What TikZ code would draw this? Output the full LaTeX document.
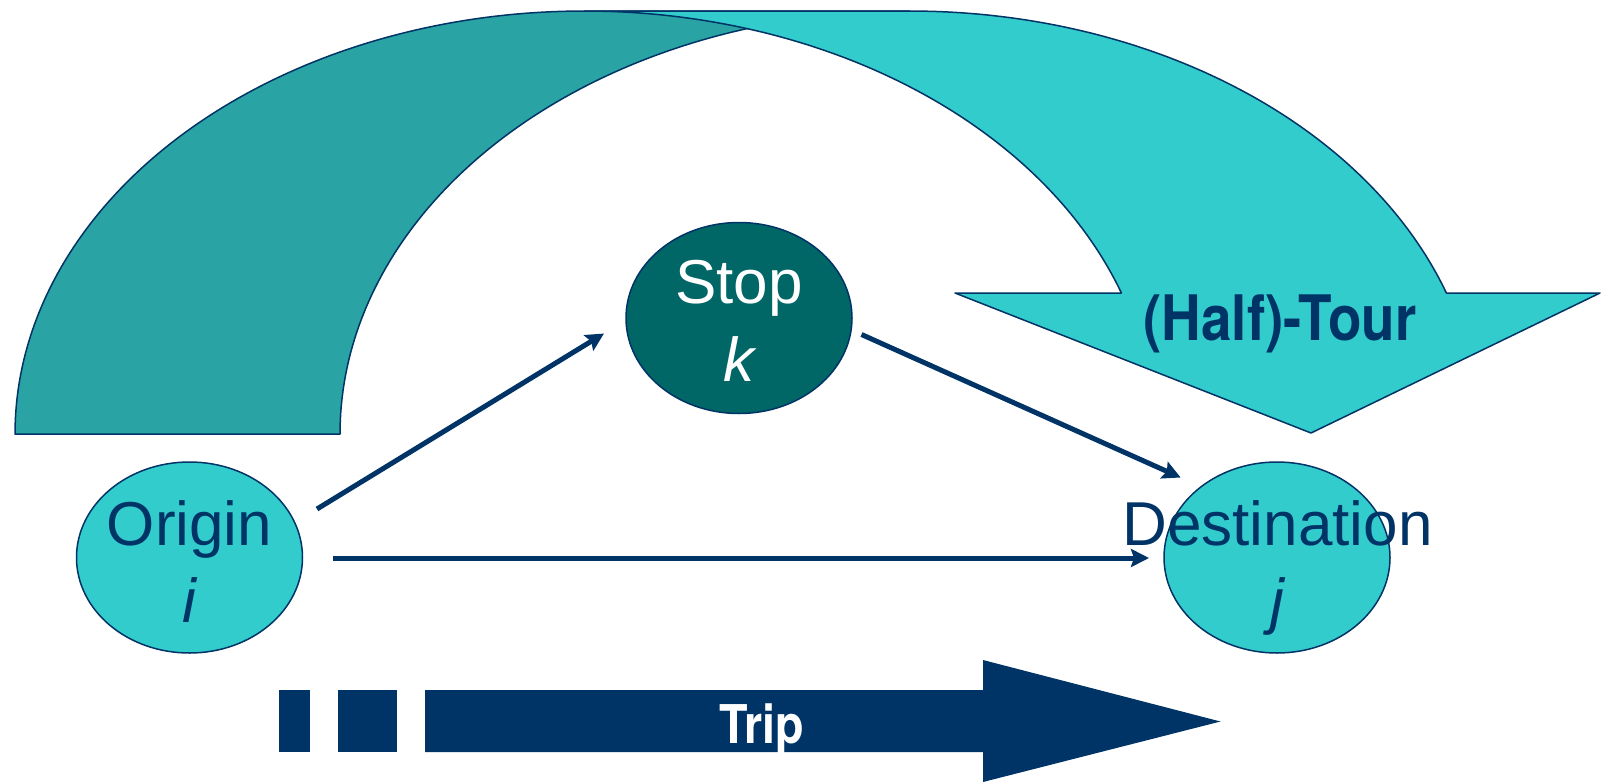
\documentclass[tikz,border=0pt]{standalone}
\usepackage{fontspec}
\setmainfont{Liberation Sans}
\newfontfamily\bannerfont[FakeStretch=0.875]{TeX Gyre Heros}
\usetikzlibrary{shapes.geometric,arrows.meta}
\definecolor{turq}{HTML}{33CCCC}
\definecolor{turqdark}{HTML}{29A3A3}
\definecolor{stopteal}{HTML}{006666}
\definecolor{navy}{HTML}{003366}
\begin{document}
\begin{tikzpicture}[x=1pt,y=-1pt,
  band/.style={draw=navy, line width=1.5pt, line join=round},
  place/.style={ellipse, draw=navy, line width=1.5pt, minimum width=226pt,
    minimum height=191pt, inner sep=0pt},
  lbl/.style={anchor=base, inner sep=0pt, font=\fontsize{62}{74}\selectfont},
  conn/.style={draw=navy, line width=5pt, -{Stealth[length=18pt,width=18pt,inset=3pt]}},
  banner/.style={anchor=base, inner sep=0pt, font=\bannerfont\bfseries}
]
\useasboundingbox (0,0) rectangle (1614,782);

% back half of the curved tour arrow
\path[band, fill=turqdark]
  plot[domain=180:270, samples=90] ({584.5+569.5*cos(\x)},{434+423*sin(\x)})
  -- plot[domain=270:180, samples=90] ({909.5+569.5*cos(\x)},{434+423*sin(\x)})
  -- cycle;

% front half with the arrow head
\path[band, fill=turq]
  plot[domain=270:340.53, samples=90] ({584.5+569.5*cos(\x)},{434+423*sin(\x)})
  -- (955,293) -- (1311,433) -- (1600,293)
  -- plot[domain=340.53:270, samples=90] ({909.5+569.5*cos(\x)},{434+423*sin(\x)})
  -- cycle;

\node[banner, text=navy, font=\bannerfont\bfseries\fontsize{62.7}{72}\selectfont]
  (tour) at (1280,340) {(Half)-Tour};

% places
\node[place, fill=turq] (origin) at (189.5,557.5) {};
\node[place, fill=stopteal] (stop) at (739,318) {};
\node[place, fill=turq] (dest) at (1277,557.5) {};

\node[lbl, text=navy] (origin-name) at (189.5,545) {Origin};
\node[lbl, text=navy] (origin-sym) at (189.5,622) {\itshape i};
\node[lbl, text=white] (stop-name) at (739,303) {Stop};
\node[lbl, text=white] (stop-sym) at (739,381) {\itshape k};
\node[lbl, text=navy] (dest-name) at (1277.5,545) {Destination};
\node[lbl, text=navy] (dest-sym) at (1277,622) {\itshape j};

% movements
\draw[conn] ([shift={(127.5,-48.5)}]origin.center) -- ([shift={(-135,15.5)}]stop.center);
\draw[conn] ([shift={(122.5,16.5)}]stop.center) -- ([shift={(-96.4,-80)}]dest.center);
\draw[conn] ([shift={(143,0.5)}]origin.center) -- ([shift={(-128,0.5)}]dest.center);

% trip arrow
\fill[navy] (279,690) rectangle (310,752);
\fill[navy] (338,690) rectangle (397,752);
\fill[navy] (425,690) -- (983,690) -- (983,660) -- (1220.5,721.5) -- (983,782)
  -- (983,752) -- (425,752) -- cycle;
\node[banner, text=white, font=\bannerfont\bfseries\fontsize{53.4}{62}\selectfont]
  (trip) at (761.5,743) {Trip};
\end{tikzpicture}
\end{document}
